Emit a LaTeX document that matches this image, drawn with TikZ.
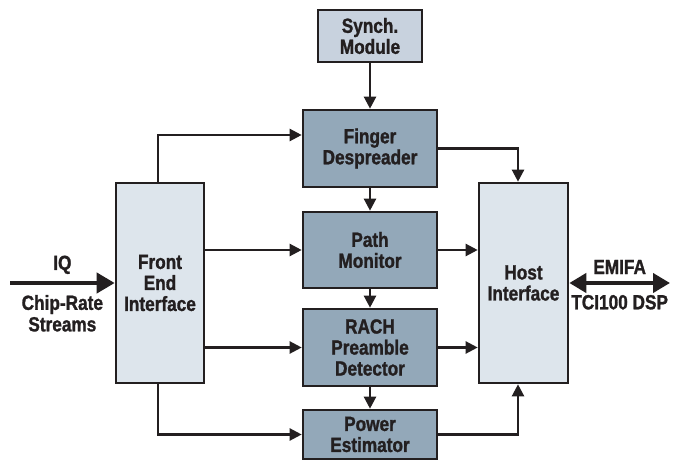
\documentclass[tikz,border=0pt]{standalone}
\usepackage{fontspec}
\setmainfont{Liberation Sans}[FakeStretch=0.84, BoldFeatures={FakeStretch=0.84,FakeBold=1.3}]
\usepackage{xcolor}
\usepackage{tikz}
\usetikzlibrary{arrows.meta}

\definecolor{blockdark}{HTML}{93A8B9}
\definecolor{blocksync}{HTML}{C8D2DE}
\definecolor{blocklight}{HTML}{DDE5EC}
\definecolor{inkline}{HTML}{231F20}

\tikzset{
  block/.style={draw=inkline, line width=2.6pt, inner sep=0pt, align=center,
    text=inkline, font=\bfseries\fontsize{20.5}{21}\selectfont},
  arr/.style={-{Triangle[length=12pt,width=12pt]}, line width=2.3pt, draw=inkline},
  bigarr/.style={line width=4pt, draw=inkline},
  lbl/.style={align=center, text=inkline, inner sep=0pt,
    font=\bfseries\fontsize{20.5}{21.5}\selectfont}
}

\begin{document}
\begin{tikzpicture}[x=1pt,y=1pt]
      \useasboundingbox (0,0) rectangle (684,461);
      \begin{scope}[font=\bfseries]
        \node[block, fill=blocksync, minimum width=104, minimum height=52] (synch) at (370,425) {Synch.\\Module};
        \node[block, fill=blockdark, minimum width=134, minimum height=77] (finger) at (370,312.5) {Finger\\Despreader};
        \node[block, fill=blockdark, minimum width=134, minimum height=76] (path) at (370,211) {Path\\Monitor};
        \node[block, fill=blockdark, minimum width=134, minimum height=77] (rach) at (370,113.5) {RACH\\Preamble\\Detector};
        \node[block, fill=blockdark, minimum width=134, minimum height=49] (power) at (370,26.5) {Power\\Estimator};

        \node[block, fill=blocklight, minimum width=88, minimum height=200] (front) at (160,178) {Front\\End\\Interface};
        \node[block, fill=blocklight, minimum width=89, minimum height=200] (host) at (523.5,178) {Host\\Interface};

        \coordinate (iqin) at (10,178);
        \coordinate (dsp) at (670,178);

        % chain down the middle
        \foreach \a/\b in {synch/finger,finger/path,path/rach,rach/power}{
          \draw[arr] (\a.south) -- (\b.north);
        }

        % front end to the blocks
        \draw[arr] ([xshift=-2pt]front.north) |- ([yshift=13.5pt]finger.west);
        \draw[arr] ([xshift=-2pt]front.south) |- (power.west);
        \foreach \n in {path,rach}{
          \draw[arr] (front.east |- \n.west) -- (\n.west);
          \draw[arr] (\n.east) -- (\n.east -| host.west);
        }

        % into the host
        \draw[arr] (finger.east) -| ([xshift=-5.5pt]host.north);
        \draw[arr] (power.east) -| ([xshift=-5.5pt]host.south);

        \draw[bigarr, -{Triangle[length=18pt,width=20pt]}] (iqin) -- (front.west)
          node[lbl, midway, above=7pt] {IQ}
          node[lbl, midway, below=10pt] {Chip-Rate\\Streams};
        \draw[bigarr, {Triangle[length=17pt,width=19pt]}-{Triangle[length=17pt,width=19pt]}] (host.east) -- (dsp)
          node[lbl, midway, above=7pt] {EMIFA}
          node[lbl, midway, below=10pt] {TCI100 DSP};
      \end{scope}
    \end{tikzpicture}
\end{document}
